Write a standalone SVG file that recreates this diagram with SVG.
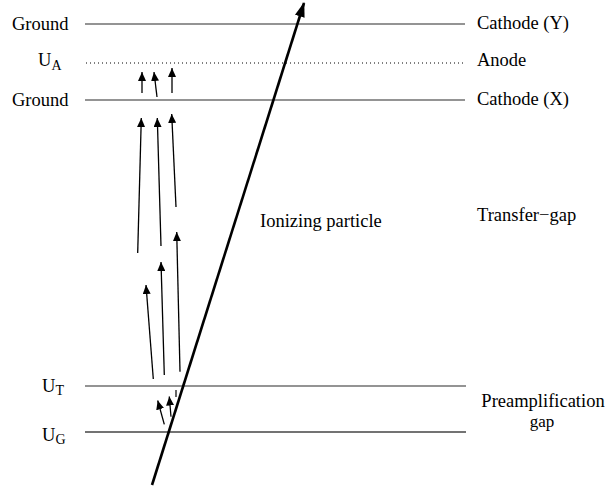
<svg xmlns="http://www.w3.org/2000/svg" width="607" height="487" viewBox="0 0 607 487">
<style>
text{font-family:"Liberation Serif","Times New Roman",serif;font-size:18.5px;fill:#000}
.sub{font-size:14px}
.lvl{stroke:#707070;stroke-width:1.3;fill:none}
.dot{stroke:#000;stroke-width:1;stroke-dasharray:1 3;fill:none}
.e{stroke:#000;stroke-width:1.3;fill:none;marker-end:url(#ah)}
.p{stroke:#000;stroke-width:2.6;fill:none;marker-end:url(#ph)}
</style>
<defs>
<marker id="ah" markerUnits="userSpaceOnUse" markerWidth="10" markerHeight="8" refX="9" refY="4" orient="auto"><path d="M0,0 L9,4 L0,8 Z" fill="#000"/></marker>
<marker id="ph" markerUnits="userSpaceOnUse" markerWidth="16" markerHeight="10" refX="14" refY="5" orient="auto"><path d="M0,0 L15,5 L0,10 Z" fill="#000"/></marker>
</defs>
<g id="level-ground-y"><line class="lvl" x1="85" y1="24" x2="465" y2="24"/><text x="12" y="30">Ground</text><text x="477" y="29">Cathode (Y)</text></g>
<g id="level-anode"><line class="dot" x1="86" y1="63" x2="465" y2="63"/><text x="38" y="66">U<tspan class="sub" dy="4">A</tspan></text><text x="477" y="66">Anode</text></g>
<g id="level-ground-x"><line class="lvl" x1="85" y1="100" x2="465" y2="100"/><text x="12" y="106">Ground</text><text x="477" y="105">Cathode (X)</text></g>
<g id="transfer-gap"><text x="477" y="221">Transfer−gap</text></g>
<g id="level-ut"><line class="lvl" x1="85" y1="386" x2="466" y2="386"/><text x="42" y="392">U<tspan class="sub" dy="3">T</tspan></text></g>
<g id="level-ug"><line class="lvl" x1="85" y1="432" x2="466" y2="432" style="stroke:#444"/><text x="42" y="441">U<tspan class="sub" dy="3">G</tspan></text></g>
<g id="preamp-gap"><text x="543" y="407" text-anchor="middle">Preamplification</text><text x="542" y="427" text-anchor="middle" style="font-size:17px">gap</text></g>
<g id="particle-label"><text x="260" y="227">Ionizing particle</text></g>
<g id="connectors">
<line class="p" x1="152" y1="485" x2="304" y2="3"/>
<line class="e" x1="142" y1="93" x2="142" y2="72"/>
<line class="e" x1="157" y1="97" x2="154" y2="72"/>
<line class="e" x1="172" y1="93" x2="172" y2="68"/>
<line class="e" x1="137.7" y1="253" x2="141.3" y2="118"/>
<line class="e" x1="161" y1="246" x2="157.3" y2="118"/>
<line class="e" x1="176" y1="207" x2="171.7" y2="114"/>
<line class="e" x1="153.3" y1="379" x2="146" y2="285"/>
<line class="e" x1="164.3" y1="375" x2="161" y2="262"/>
<line class="e" x1="180" y1="371.7" x2="176.7" y2="232"/>
<line class="e" x1="164.3" y1="424.3" x2="157.7" y2="400.5"/>
<line class="e" x1="171" y1="416.7" x2="169.3" y2="396.5"/>
<line stroke="#000" stroke-width="1.2" x1="176" y1="390" x2="176" y2="397"/>
</g>
</svg>
